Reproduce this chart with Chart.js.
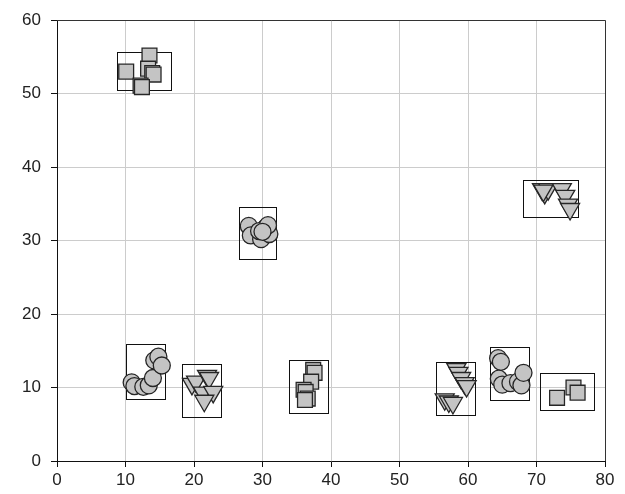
<!DOCTYPE html>
<html>
<head>
<meta charset="utf-8">
<script src="https://cdn.jsdelivr.net/npm/chart.js@4/dist/chart.umd.min.js"></script>
<style>
  html, body { margin: 0; padding: 0; background: #fff; }
  canvas { display: block; }
</style>
</head>
<body>
<canvas id="c" width="625" height="494"></canvas>
<script>
// Axis ticks
const xTicks = [0, 10, 20, 30, 40, 50, 60, 70, 80];
const yTicks = [0, 10, 20, 30, 40, 50, 60];

// Group 1: squares, upper left
const sqAx = [10.1, 13.5, 13.3, 13.9, 14.1, 12.2, 12.4];
const sqAy = [53.0, 55.2, 53.4, 52.8, 52.6, 51.1, 50.9];
// Group 2: circles, centre
const ciBx = [28.0, 28.3, 29.8, 30.5, 31.0, 29.5, 30.8, 30.0];
const ciBy = [32.0, 30.7, 30.2, 31.8, 30.9, 31.3, 32.1, 31.2];
// Group 3: triangles, upper right
const trCx = [70.8, 71.2, 71.7, 73.7, 74.2, 74.6, 74.9, 71.0];
const trCy = [37.0, 36.5, 37.0, 37.0, 36.1, 34.9, 34.3, 36.8];
// Group 4: circles, lower left
const ciDx = [10.9, 11.3, 12.6, 13.4, 14.0, 14.2, 14.8, 15.3];
const ciDy = [10.7, 10.2, 10.1, 10.3, 11.3, 13.7, 14.2, 13.0];
// Group 5: triangles near x = 21
const trEx = [19.7, 20.3, 21.9, 22.2, 21.3, 22.8, 21.5];
const trEy = [10.5, 10.8, 11.6, 11.3, 9.3, 9.4, 8.2];
// Group 6: squares near x = 37
const sqFx = [37.4, 37.6, 37.1, 36.0, 36.3, 36.6, 36.2];
const sqFy = [12.4, 12.0, 10.8, 9.7, 9.4, 8.5, 8.3];
// Group 7: triangles near x = 58
const trGx = [58.3, 58.6, 59.0, 59.5, 59.8, 56.6, 57.2, 57.8];
const trGy = [12.5, 12.0, 11.3, 10.6, 10.2, 8.4, 8.1, 7.9];
// Group 8: circles near x = 66
const ciHx = [64.4, 64.8, 64.5, 65.0, 66.2, 67.3, 67.8, 68.1];
const ciHy = [14.0, 13.5, 11.2, 10.4, 10.6, 10.8, 10.3, 12.0];
// Group 9: squares, lower right
const sqIx = [73.0, 75.4, 76.0];
const sqIy = [8.6, 10.0, 9.3];

// Enclosing boxes of the nine groups (same order as above)
const boxXMin = [8.8, 26.6, 68.0, 10.0, 18.3, 33.8, 55.4, 63.2, 70.5];
const boxXMax = [16.7, 32.0, 76.1, 15.8, 24.0, 39.5, 61.0, 68.9, 78.4];
const boxYMin = [50.5, 27.5, 33.2, 8.4, 6.0, 6.6, 6.2, 8.3, 6.9];
const boxYMax = [55.7, 34.6, 38.2, 15.9, 13.2, 13.8, 13.5, 15.5, 12.0];

function pts(xs, ys) { return xs.map((x, i) => ({ x: x, y: ys[i] })); }

const fill = '#c4c4c4';
const edge = '#262626';

const squareStyle = { pointStyle: 'rect', pointRadius: 10.5, rotation: 0 };
const circleStyle = { pointStyle: 'circle', pointRadius: 8.5, rotation: 0 };
const triStyle = { pointStyle: 'triangle', pointRadius: 11, rotation: 180 };

const groups = [
  [sqAx, sqAy, squareStyle],
  [ciBx, ciBy, circleStyle],
  [trCx, trCy, triStyle],
  [ciDx, ciDy, circleStyle],
  [trEx, trEy, triStyle],
  [sqFx, sqFy, squareStyle],
  [trGx, trGy, triStyle],
  [ciHx, ciHy, circleStyle],
  [sqIx, sqIy, squareStyle]
];

const datasets = groups.map(([xs, ys, st]) => ({
  type: 'scatter',
  data: pts(xs, ys),
  pointStyle: st.pointStyle,
  pointRadius: st.pointRadius,
  pointHoverRadius: st.pointRadius,
  pointRotation: st.rotation,
  backgroundColor: fill,
  borderColor: edge,
  borderWidth: 1.3,
  showLine: false
}));

// Group boxes behind the markers, plus the top/right frame
const framePlugin = {
  id: 'frame',
  beforeDatasetsDraw(chart) {
    const { ctx, scales: { x, y } } = chart;
    ctx.save();
    ctx.strokeStyle = '#111';
    ctx.lineWidth = 1;
    for (let i = 0; i < boxXMin.length; i++) {
      const l = Math.round(x.getPixelForValue(boxXMin[i])) + 0.5;
      const r = Math.round(x.getPixelForValue(boxXMax[i])) + 0.5;
      const t = Math.round(y.getPixelForValue(boxYMax[i])) + 0.5;
      const b = Math.round(y.getPixelForValue(boxYMin[i])) + 0.5;
      ctx.strokeRect(l, t, r - l, b - t);
    }
    ctx.restore();
  },
  afterDraw(chart) {
    const { ctx, chartArea: a } = chart;
    ctx.save();
    ctx.strokeStyle = '#333';
    ctx.lineWidth = 1;
    ctx.beginPath();
    ctx.moveTo(a.left, Math.round(a.top) + 0.5);
    ctx.lineTo(Math.round(a.right) + 0.5, Math.round(a.top) + 0.5);
    ctx.lineTo(Math.round(a.right) + 0.5, a.bottom);
    ctx.stroke();
    ctx.restore();
  }
};

new Chart(document.getElementById('c'), {
  type: 'scatter',
  data: { datasets },
  options: {
    responsive: false,
    animation: false,
    layout: { padding: { top: 18, right: 20, left: 0, bottom: 0 } },
    plugins: { legend: { display: false }, tooltip: { enabled: false } },
    scales: {
      x: {
        type: 'linear',
        min: xTicks[0],
        max: xTicks[xTicks.length - 1],
        afterBuildTicks(s) { s.ticks = xTicks.map(v => ({ value: v })); },
        afterFit(s) { s.height = 33; },
        ticks: {
          font: { family: 'Liberation Sans, Arial, sans-serif', size: 17 },
          color: '#222',
          padding: 3,
          maxRotation: 0
        },
        grid: { color: '#cccccc', lineWidth: 1, tickLength: 6, tickColor: '#111' },
        border: { color: '#111', width: 1 }
      },
      y: {
        type: 'linear',
        min: yTicks[0],
        max: yTicks[yTicks.length - 1],
        afterBuildTicks(s) { s.ticks = yTicks.map(v => ({ value: v })); },
        afterFit(s) { s.width = 57; },
        ticks: {
          font: { family: 'Liberation Sans, Arial, sans-serif', size: 17 },
          color: '#222',
          padding: 10
        },
        grid: { color: '#cccccc', lineWidth: 1, tickLength: 6, tickColor: '#111' },
        border: { color: '#111', width: 1 }
      }
    }
  },
  plugins: [framePlugin]
});
</script>
</body>
</html>
